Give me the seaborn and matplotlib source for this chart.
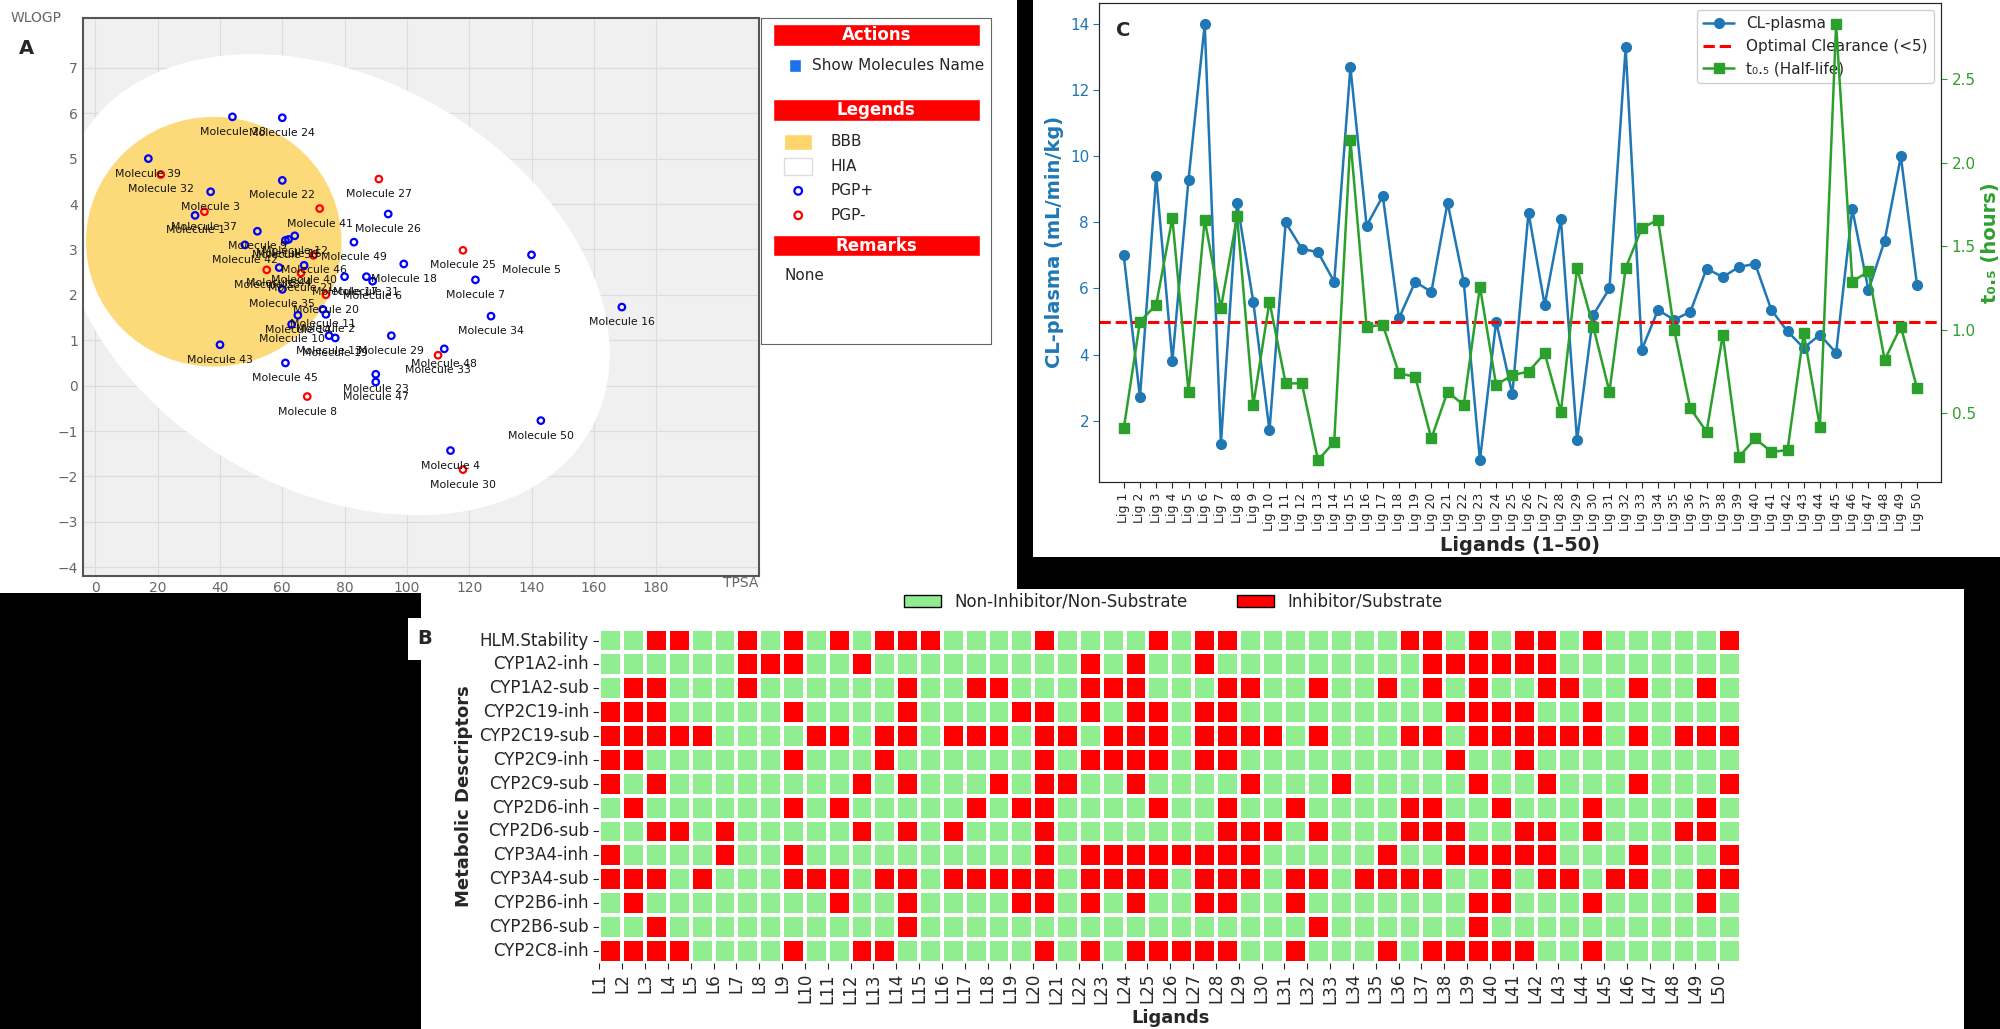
import numpy as np
import pandas as pd
import seaborn as sns
import matplotlib.pyplot as plt
from matplotlib.patches import Rectangle, Ellipse, Polygon
from matplotlib.colors import ListedColormap

# ---- panel A data (TPSA vs WLOGP)
mol_ids = list(range(1, 51))
tpsa = [32, 74, 37, 114, 140, 89, 122, 68, 52, 63, 73, 64, 75, 65, 62, 169, 80, 99, 77, 74,
        66, 60, 90, 60, 118, 94, 91, 44, 95, 118, 87, 21, 110, 127, 60, 61, 35, 55, 17, 67,
        72, 48, 40, 59, 61, 70, 90, 112, 83, 143]
wlogp = [3.75, 1.57, 4.27, -1.43, 2.88, 2.3, 2.33, -0.24, 3.4, 1.35, 1.68, 3.3, 1.1, 1.55, 3.22,
         1.73, 2.4, 2.68, 1.05, 2.0, 2.48, 4.52, 0.25, 5.9, 2.98, 3.78, 4.55, 5.92, 1.1, -1.85,
         2.4, 4.65, 0.67, 1.53, 2.12, 3.2, 3.83, 2.55, 5.0, 2.65, 3.9, 3.1, 0.9, 2.6, 0.5,
         2.87, 0.08, 0.81, 3.16, -0.77]
pgp_neg = [8, 20, 21, 25, 27, 30, 32, 33, 37, 38, 41, 46]

# ---- panel C data
ligs = [f"Lig {i}" for i in range(1, 51)]
cl_plasma = [7.0, 2.7, 9.4, 3.8, 9.3, 14.0, 1.3, 8.6, 5.6, 1.7, 8.0, 7.2, 7.1, 6.2, 12.7, 7.9, 8.8,
             5.1, 6.2, 5.9, 8.6, 6.2, 0.8, 5.0, 2.8, 8.3, 5.5, 8.1, 1.4, 5.2, 6.0, 13.3, 4.15, 5.35,
             5.05, 5.3, 6.6, 6.35, 6.65, 6.75, 5.35, 4.7, 4.2, 4.6, 4.05, 8.4, 5.95, 7.45, 10.0, 6.1]
half_life = [0.41, 1.05, 1.15, 1.67, 0.63, 1.66, 1.13, 1.68, 0.55, 1.17, 0.68, 0.68, 0.22, 0.33,
             2.14, 1.02, 1.03, 0.74, 0.72, 0.35, 0.63, 0.55, 1.26, 0.67, 0.73, 0.75, 0.86, 0.51,
             1.37, 1.02, 0.63, 1.37, 1.61, 1.66, 1.0, 0.53, 0.39, 0.97, 0.24, 0.35, 0.27, 0.28,
             0.98, 0.42, 2.83, 1.29, 1.35, 0.82, 1.02, 0.65]

# ---- panel B data (ligand numbers flagged as inhibitor/substrate)
descriptors = ["HLM.Stability", "CYP1A2-inh", "CYP1A2-sub", "CYP2C19-inh", "CYP2C19-sub",
               "CYP2C9-inh", "CYP2C9-sub", "CYP2D6-inh", "CYP2D6-sub", "CYP3A4-inh",
               "CYP3A4-sub", "CYP2B6-inh", "CYP2B6-sub", "CYP2C8-inh"]
positives = [
    [3, 4, 7, 9, 11, 13, 14, 15, 20, 25, 27, 28, 36, 37, 39, 41, 42, 44, 50],
    [7, 8, 9, 12, 22, 24, 27, 37, 38, 39, 40, 41, 42],
    [2, 3, 7, 14, 17, 18, 22, 23, 24, 28, 29, 32, 35, 37, 39, 42, 43, 46, 49],
    [1, 2, 3, 9, 14, 19, 20, 22, 24, 25, 27, 28, 38, 39, 40, 41, 44],
    [1, 2, 3, 4, 5, 10, 11, 13, 14, 16, 17, 18, 20, 21, 23, 24, 25, 27, 28, 29, 30, 32, 36, 37,
     39, 40, 41, 42, 43, 44, 46, 48, 49, 50],
    [1, 2, 9, 13, 20, 22, 23, 24, 25, 27, 28, 38, 41],
    [1, 3, 12, 14, 18, 20, 21, 24, 29, 33, 39, 42, 46, 50],
    [2, 9, 11, 17, 19, 20, 25, 28, 31, 36, 37, 40, 44, 49],
    [3, 4, 6, 12, 14, 16, 20, 28, 29, 30, 32, 36, 37, 38, 41, 42, 44, 48, 49],
    [1, 6, 9, 20, 22, 23, 24, 25, 26, 27, 28, 29, 35, 38, 39, 40, 41, 42, 46, 50],
    [1, 2, 3, 5, 9, 10, 11, 13, 14, 16, 17, 18, 19, 20, 22, 23, 24, 25, 27, 28, 29, 31, 32, 34,
     35, 36, 37, 40, 42, 43, 45, 46, 49, 50],
    [2, 11, 14, 19, 20, 22, 24, 27, 28, 31, 39, 40, 44, 49],
    [3, 14, 32, 39],
    [1, 2, 3, 4, 9, 12, 13, 20, 22, 24, 25, 26, 27, 28, 31, 35, 37, 38, 39, 40, 41, 44],
]

W, H = 1568, 807  # layout measured on a 1568x807 view


def frac(x0, y0, x1, y1):
    return [x0 / W, 1 - y1 / H, (x1 - x0) / W, (y1 - y0) / H]


sns.set_style("white")
plt.rcParams['font.family'] = ['DejaVu Sans']
fig = plt.figure(figsize=(20, 10.29), dpi=100, facecolor="black")

# white panels on a background axes
bg = fig.add_axes([0, 0, 1, 1], zorder=-10)
bg.set_xlim(0, 1)
bg.set_ylim(0, 1)
bg.axis("off")
for r in [frac(0, 0, 797, 465), frac(810, 0, 1568, 437), frac(330, 462, 1540, 807),
          frac(320, 485, 347, 518)]:
    bg.add_patch(Rectangle((r[0], r[1]), r[2], r[3], facecolor="white", edgecolor="none"))

# ================= panel A
axA = fig.add_axes(frac(65, 14, 595, 452))
axA.set_facecolor("#f0f0f0")
axA.set_xlim(-4, 213)
axA.set_ylim(-4.2, 8.1)
axA.set_xticks(range(0, 181, 20))
axA.set_yticks(range(-4, 8))
axA.grid(True, color="#dcdcdc", lw=0.8)
axA.set_axisbelow(True)
for s in axA.spines.values():
    s.set_color("#555555")
    s.set_linewidth(1.5)
axA.tick_params(colors="#666666", labelsize=10, length=0)

# HIA ellipse drawn in screen-like units then mapped back to data
t = np.linspace(0, 2 * np.pi, 200)
cx, cy, a, b, phi = 263, 223, 230, 161, np.deg2rad(30)
sx = cx + a * np.cos(t) * np.cos(phi) - b * np.sin(t) * np.sin(phi)
sy = cy + a * np.cos(t) * np.sin(phi) + b * np.sin(t) * np.cos(phi)
hia = np.column_stack([(sx - 75) / 2.44, 7 - (sy - 53) / 35.6])
axA.add_patch(Polygon(hia, closed=True, facecolor="white", edgecolor="none", zorder=1))
axA.add_patch(Ellipse((38, 3.17), 82, 5.5, facecolor="#fdd66b", edgecolor="none",
                      alpha=0.9, zorder=2))

dfA = pd.DataFrame({"TPSA": tpsa, "WLOGP": wlogp, "id": mol_ids})
dfA["PGP"] = np.where(dfA["id"].isin(pgp_neg), "PGP-", "PGP+")
sns.scatterplot(data=dfA, x="TPSA", y="WLOGP", hue="PGP", palette={"PGP+": "blue", "PGP-": "red"},
                marker="o", s=22, linewidth=1.6, legend=False, ax=axA, zorder=3)
for c in axA.collections:
    c.set_facecolor("none")
    c.set_edgecolor([("red" if i in pgp_neg else "blue") for i in mol_ids])
for x, y, i in zip(tpsa, wlogp, mol_ids):
    axA.text(x, y - 0.22, f"Molecule {i}", ha="center", va="top", fontsize=7.8,
             color="#111111", zorder=4)
axA.set_xlabel("")
axA.set_ylabel("")
fig.text(8 / W, 1 - 14 / H, "WLOGP", fontsize=10, color="#666666", va="center")
fig.text(567 / W, 1 - 457 / H, "TPSA", fontsize=10, color="#666666", va="center")
fig.text(15 / W, 1 - 38 / H, "A", fontsize=14, fontweight="bold", va="center")

# side legend box
axL = fig.add_axes(frac(597, 14, 777, 270))
axL.set_xlim(0, 1)
axL.set_ylim(1, 0)
axL.set_xticks([])
axL.set_yticks([])
for s in axL.spines.values():
    s.set_color("#666666")
for y0, txt in [(0.02, "Actions"), (0.25, "Legends"), (0.665, "Remarks")]:
    axL.add_patch(Rectangle((0.05, y0), 0.9, 0.065, facecolor="red"))
    axL.text(0.5, y0 + 0.033, txt, ha="center", va="center", color="white",
             fontsize=12, fontweight="bold")
axL.add_patch(Rectangle((0.12, 0.125), 0.05, 0.04, facecolor="#1a73e8"))
axL.text(0.22, 0.145, "Show Molecules Name", va="center", fontsize=11)
axL.add_patch(Rectangle((0.1, 0.355), 0.12, 0.05, facecolor="#fdd66b"))
axL.add_patch(Rectangle((0.1, 0.43), 0.12, 0.05, facecolor="white", edgecolor="#dddddd"))
axL.scatter([0.16], [0.53], s=30, facecolor="none", edgecolor="blue", lw=1.6)
axL.scatter([0.16], [0.605], s=30, facecolor="none", edgecolor="red", lw=1.6)
for y0, txt in [(0.38, "BBB"), (0.455, "HIA"), (0.53, "PGP+"), (0.605, "PGP-")]:
    axL.text(0.3, y0, txt, va="center", fontsize=11)
axL.text(0.1, 0.79, "None", va="center", fontsize=11)

# ================= panel C
axC = fig.add_axes(frac(862, 2, 1522, 378))
x = np.arange(50)
l1, = axC.plot(x, cl_plasma, "-o", color="#1f77b4", ms=7, lw=1.8, label="CL-plasma")
l2 = axC.axhline(5, color="red", ls="--", lw=2.2, label="Optimal Clearance (<5)")
axC.set_xticks(x)
axC.set_xticklabels(ligs, rotation=90, fontsize=9)
axC.set_xlim(-1.5, 50.5)
axC.set_ylabel("CL-plasma (mL/min/kg)", color="#1f77b4", fontsize=14, fontweight="bold")
axC.set_xlabel("Ligands (1–50)", fontsize=14, fontweight="bold")
axC.tick_params(axis="y", colors="#1f77b4", labelsize=11, left=True, length=4)
axC.tick_params(axis="x", length=4, bottom=True)
axC2 = axC.twinx()
l3, = axC2.plot(x, half_life, "-s", color="#2ca02c", ms=7, lw=1.8, label="t₀.₅ (Half-life)")
axC2.set_ylabel("t₀.₅ (hours)", color="#2ca02c", fontsize=14, fontweight="bold")
axC2.tick_params(axis="y", colors="#2ca02c", labelsize=11, right=True, length=4)
axC.legend(handles=[l1, l2, l3], loc="upper right", fontsize=11, framealpha=0.9)
axC.text(0.02, 0.93, "C", transform=axC.transAxes, fontsize=14, fontweight="bold")

# ================= panel B
mat = np.zeros((len(descriptors), 50), dtype=int)
for r, cols in enumerate(positives):
    for c in cols:
        mat[r, c - 1] = 1
dfB = pd.DataFrame(mat, index=descriptors, columns=[f"L{i}" for i in range(1, 51)])
axB = fig.add_axes(frac(470, 493, 1365, 755))
sns.heatmap(dfB, cmap=ListedColormap(["#90ee90", "red"]), cbar=False, linewidths=1.5,
            linecolor="white", ax=axB)
axB.set_xticks(np.arange(50))
axB.set_xticklabels(dfB.columns, rotation=90, fontsize=12)
axB.set_yticks(np.arange(len(descriptors)) + 0.5)
axB.set_yticklabels(descriptors, rotation=0, fontsize=12)
axB.tick_params(length=4, bottom=True, left=True)
axB.set_xlabel("Ligands", fontsize=13, fontweight="bold")
axB.set_ylabel("Metabolic Descriptors", fontsize=13, fontweight="bold")
handles = [Rectangle((0, 0), 1, 1, facecolor="#90ee90", edgecolor="black"),
           Rectangle((0, 0), 1, 1, facecolor="red", edgecolor="black")]
fig.legend(handles, ["Non-Inhibitor/Non-Substrate", "Inhibitor/Substrate"], ncol=2,
           loc="center", bbox_to_anchor=(920 / W, 1 - 472 / H), frameon=False, fontsize=12,
           handlelength=2.2, columnspacing=3)
fig.text(333 / W, 1 - 501 / H, "B", fontsize=14, fontweight="bold", ha="center", va="center")

fig.savefig("out.png", dpi=100, facecolor="black")
